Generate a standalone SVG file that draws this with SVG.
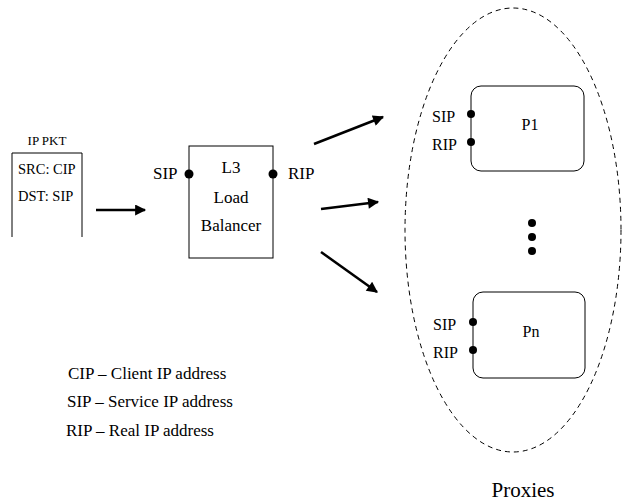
<svg xmlns="http://www.w3.org/2000/svg" width="622" height="502" viewBox="0 0 622 502" font-family="'Liberation Serif', 'DejaVu Serif', serif">
  <style>
    text { font-family: "Liberation Serif", "DejaVu Serif", serif; fill: #000; }
    .s { font-size: 16px; }
    .m { font-size: 17px; }
    .lg { font-size: 17px; }
    .box { fill: #fff; stroke: #000; stroke-width: 1; }
    .port { fill: #000; }
    .arrow { stroke: #000; stroke-width: 2.5; fill: none; marker-end: url(#head); }
  </style>
  <defs>
    <marker id="head" viewBox="0 0 10 10" refX="9" refY="5" markerWidth="5" markerHeight="4.4" orient="auto" markerUnits="strokeWidth">
      <path d="M0,0 L10,5 L0,10 z" fill="#000"/>
    </marker>
  </defs>
  <rect width="622" height="502" fill="#fff"/>

  <!-- packet header -->
  <g id="ip-pkt">
    <text x="47" y="145" text-anchor="middle" font-size="13">IP PKT</text>
    <path d="M12,237 V153 H82 V237" fill="none" stroke="#000" stroke-width="1"/>
    <text x="18" y="174" font-size="14.5">SRC: CIP</text>
    <text x="18" y="201" font-size="14.5">DST: SIP</text>
  </g>

  <!-- load balancer -->
  <g id="load-balancer">
    <rect class="box" x="189" y="146" width="84" height="112"/>
    <text x="231" y="173" text-anchor="middle" class="m">L3</text>
    <text x="231" y="203" text-anchor="middle" class="m">Load</text>
    <text x="231" y="231" text-anchor="middle" class="m">Balancer</text>
    <circle class="port" cx="189" cy="174" r="4.5"/>
    <circle class="port" cx="273" cy="174" r="4.5"/>
    <text x="153" y="179" font-size="17">SIP</text>
    <text x="288" y="179" font-size="17">RIP</text>
  </g>

  <!-- proxy pool -->
  <g id="proxies">
    <ellipse cx="513" cy="230" rx="108" ry="222" fill="none" stroke="#000" stroke-width="1" stroke-dasharray="5,4"/>
    <text x="523" y="497" text-anchor="middle" font-size="21">Proxies</text>
    <circle class="port" cx="532" cy="223" r="4"/>
    <circle class="port" cx="532" cy="237" r="4"/>
    <circle class="port" cx="532" cy="251" r="4"/>
  </g>

  <g id="p1">
    <rect class="box" x="471" y="86" width="113" height="85" rx="10"/>
    <text x="530" y="130" text-anchor="middle" class="s">P1</text>
    <circle class="port" cx="471" cy="114" r="4"/>
    <circle class="port" cx="471" cy="142" r="4"/>
    <text x="432" y="122" class="s">SIP</text>
    <text x="432" y="150" class="s">RIP</text>
  </g>

  <g id="pn">
    <rect class="box" x="473" y="292" width="112" height="86" rx="10"/>
    <text x="531" y="337" text-anchor="middle" class="s">Pn</text>
    <circle class="port" cx="473" cy="322" r="4"/>
    <circle class="port" cx="473" cy="350" r="4"/>
    <text x="433" y="330" class="s">SIP</text>
    <text x="433" y="358" class="s">RIP</text>
  </g>

  <!-- connectors -->
  <g id="connectors">
    <line class="arrow" x1="96" y1="210" x2="145" y2="210"/>
    <line class="arrow" x1="314" y1="144" x2="383" y2="117"/>
    <line class="arrow" x1="321" y1="209" x2="378" y2="202"/>
    <line class="arrow" x1="321" y1="252" x2="377" y2="292"/>
  </g>

  <!-- legend -->
  <g id="legend">
    <text x="68" y="379" class="lg">CIP – Client IP address</text>
    <text x="67" y="407" class="lg">SIP – Service IP address</text>
    <text x="66" y="436" class="lg">RIP – Real IP address</text>
  </g>
</svg>
